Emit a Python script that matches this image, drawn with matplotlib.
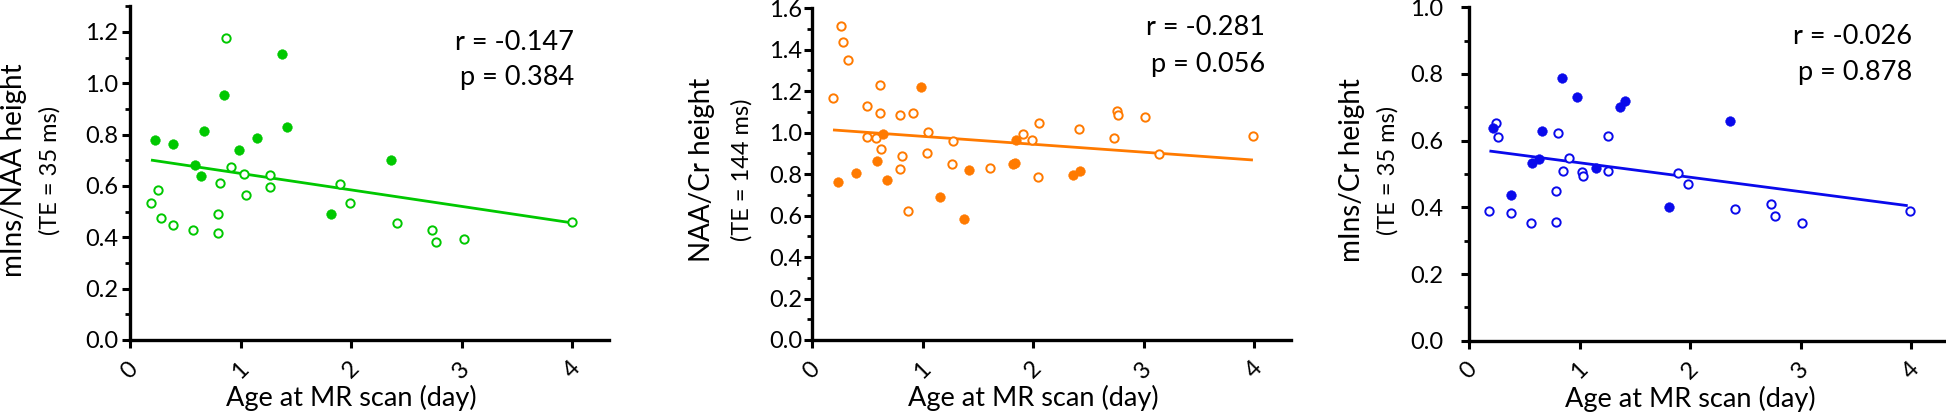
import matplotlib
matplotlib.use("Agg")
import matplotlib.pyplot as plt
from matplotlib.ticker import MultipleLocator, FormatStrFormatter

plt.rcParams['font.family'] = ['Lato', 'DejaVu Sans']

# ---- panel 1: mIns/NAA (TE = 35 ms), green
naa_open_x = [0.865, 0.910, 1.030, 1.265, 1.268, 1.051, 0.811, 0.250, 0.193, 0.277,
              0.392, 0.573, 0.799, 0.799, 1.898, 1.991, 2.415, 2.737, 2.771, 3.021, 3.996]
naa_open_y = [1.178, 0.675, 0.647, 0.642, 0.596, 0.566, 0.613, 0.586, 0.532, 0.477,
              0.448, 0.427, 0.490, 0.417, 0.606, 0.534, 0.457, 0.429, 0.383, 0.395, 0.458]
naa_fill_x = [0.223, 0.389, 0.666, 0.985, 1.151, 0.847, 1.377, 1.419, 0.585, 0.639, 1.823, 2.361]
naa_fill_y = [0.779, 0.764, 0.816, 0.739, 0.788, 0.955, 1.113, 0.830, 0.682, 0.639, 0.492, 0.701]
naa_fit_x = [0.19, 3.99]
naa_fit_y = [0.701, 0.457]

# ---- panel 2: NAA/Cr (TE = 144 ms), orange
cr144_open_x = [0.261, 0.282, 0.325, 0.186, 0.615, 0.494, 0.615, 0.799, 0.914, 0.494,
                0.579, 0.621, 1.050, 1.274, 1.038, 0.817, 0.796, 1.264, 1.612, 0.866,
                1.911, 1.987, 2.056, 2.044, 2.413, 2.761, 2.772, 2.733, 3.011, 3.144, 3.987]
cr144_open_y = [1.516, 1.439, 1.351, 1.167, 1.228, 1.127, 1.095, 1.084, 1.095, 0.978,
                0.974, 0.923, 1.003, 0.960, 0.900, 0.888, 0.826, 0.851, 0.831, 0.624,
                0.994, 0.965, 1.048, 0.786, 1.018, 1.105, 1.084, 0.976, 1.076, 0.896, 0.986]
cr144_fill_x = [0.237, 0.397, 0.590, 0.645, 0.675, 0.989, 1.159, 1.379, 1.419, 1.848,
                1.833, 1.823, 2.362, 2.425]
cr144_fill_y = [0.762, 0.807, 0.862, 0.995, 0.773, 1.220, 0.688, 0.582, 0.820, 0.963,
                0.852, 0.847, 0.796, 0.815]
cr144_fit_x = [0.19, 3.99]
cr144_fit_y = [1.013, 0.868]

# ---- panel 3: mIns/Cr (TE = 35 ms), blue
cr35_open_x = [0.245, 0.266, 0.181, 0.381, 0.560, 0.786, 0.786, 0.802, 0.901, 0.850,
               1.019, 1.031, 1.255, 1.258, 1.888, 1.978, 2.408, 2.732, 2.765, 3.013, 3.99]
cr35_open_y = [0.654, 0.610, 0.389, 0.384, 0.352, 0.355, 0.450, 0.624, 0.549, 0.510,
               0.505, 0.494, 0.614, 0.508, 0.504, 0.471, 0.395, 0.410, 0.374, 0.354, 0.388]
cr35_fill_x = [0.215, 0.662, 0.378, 0.572, 0.629, 0.841, 0.977, 1.146, 1.364, 1.410, 1.812, 2.359]
cr35_fill_y = [0.639, 0.630, 0.438, 0.534, 0.544, 0.787, 0.730, 0.517, 0.700, 0.719, 0.402, 0.660]
cr35_fit_x = [0.185, 3.97]
cr35_fit_y = [0.569, 0.405]

x_ticks = [0, 1, 2, 3, 4]

panels = [
    dict(ox=naa_open_x, oy=naa_open_y, fx=naa_fill_x, fy=naa_fill_y,
         lx=naa_fit_x, ly=naa_fit_y, color='#00C800', ymax=1.3,
         r='r = -0.147', p='p = 0.384', lab1='mIns/NAA height', lab2='(TE = 35 ms)',
         rect=[130, 340, 333.7], lab_x=(14, 50), txt_x=4.02, txt_y=(1.130, 0.993), pad=2.5),
    dict(ox=cr144_open_x, oy=cr144_open_y, fx=cr144_fill_x, fy=cr144_fill_y,
         lx=cr144_fit_x, ly=cr144_fit_y, color='#FF7A00', ymax=1.6,
         r='r = -0.281', p='p = 0.056', lab1='NAA/Cr height', lab2='(TE = 144 ms)',
         rect=[812, 340, 331.8], lab_x=(702, 742), txt_x=4.1, txt_y=(1.471, 1.294), pad=1.2),
    dict(ox=cr35_open_x, oy=cr35_open_y, fx=cr35_fill_x, fy=cr35_fill_y,
         lx=cr35_fit_x, ly=cr35_fit_y, color='#0A0AEB', ymax=1.0,
         r='r = -0.026', p='p = 0.878', lab1='mIns/Cr height', lab2='(TE = 35 ms)',
         rect=[1469, 340.7, 333.4], lab_x=(1352, 1388), txt_x=4.01, txt_y=(0.890, 0.782), pad=13),
]

W, H = 1946, 418
fig = plt.figure(figsize=(W / 100, H / 100), dpi=100)

for pn in panels:
    left, bottom, height = pn['rect']
    ax = fig.add_axes([left / W, (H - bottom) / H, 478.5 / W, height / H])
    c = pn['color']

    ax.plot(pn['lx'], pn['ly'], color=c, lw=2.0, zorder=2, solid_capstyle='butt')
    ax.plot(pn['ox'], pn['oy'], 'o', ms=6.0, mfc='white', mec=c, mew=1.4, zorder=3)
    ax.plot(pn['fx'], pn['fy'], 'o', ms=7.0, mfc=c, mec=c, mew=0.3, zorder=4)

    ax.set_xlim(0, 4.33)
    ax.set_ylim(0, pn['ymax'])
    ax.set_xticks(x_ticks)
    ax.yaxis.set_major_locator(MultipleLocator(0.2))
    ax.yaxis.set_minor_locator(MultipleLocator(0.1))
    ax.yaxis.set_major_formatter(FormatStrFormatter('%.1f'))

    for s in ['top', 'right']:
        ax.spines[s].set_visible(False)
    for s in ['left', 'bottom']:
        ax.spines[s].set_linewidth(2.4)
        ax.spines[s].set_capstyle('projecting')

    ax.tick_params(axis='both', which='major', direction='out', length=5.8, width=2.2,
                   labelsize=17, color='black')
    ax.tick_params(axis='y', which='major', pad=pn['pad'])
    ax.tick_params(axis='y', which='minor', direction='out', length=3.3, width=2.0)
    ax.tick_params(axis='x', which='major', pad=7)
    for lbl in ax.get_xticklabels():
        lbl.set_rotation(45)

    ax.text(2.0, -0.135, 'Age at MR scan (day)', transform=ax.get_xaxis_transform(),
            ha='center', va='top', fontsize=19.5)
    ax.text(pn['txt_x'], pn['txt_y'][0], pn['r'], ha='right', va='baseline', fontsize=19.5)
    ax.text(pn['txt_x'], pn['txt_y'][1], pn['p'], ha='right', va='baseline', fontsize=19.5)

    fig.text(pn['lab_x'][0] / W, 248 / H, pn['lab1'], rotation=90,
             ha='center', va='center', fontsize=20)
    fig.text(pn['lab_x'][1] / W, 248 / H, pn['lab2'], rotation=90,
             ha='center', va='center', fontsize=17)

fig.savefig('out.png', dpi=100)
